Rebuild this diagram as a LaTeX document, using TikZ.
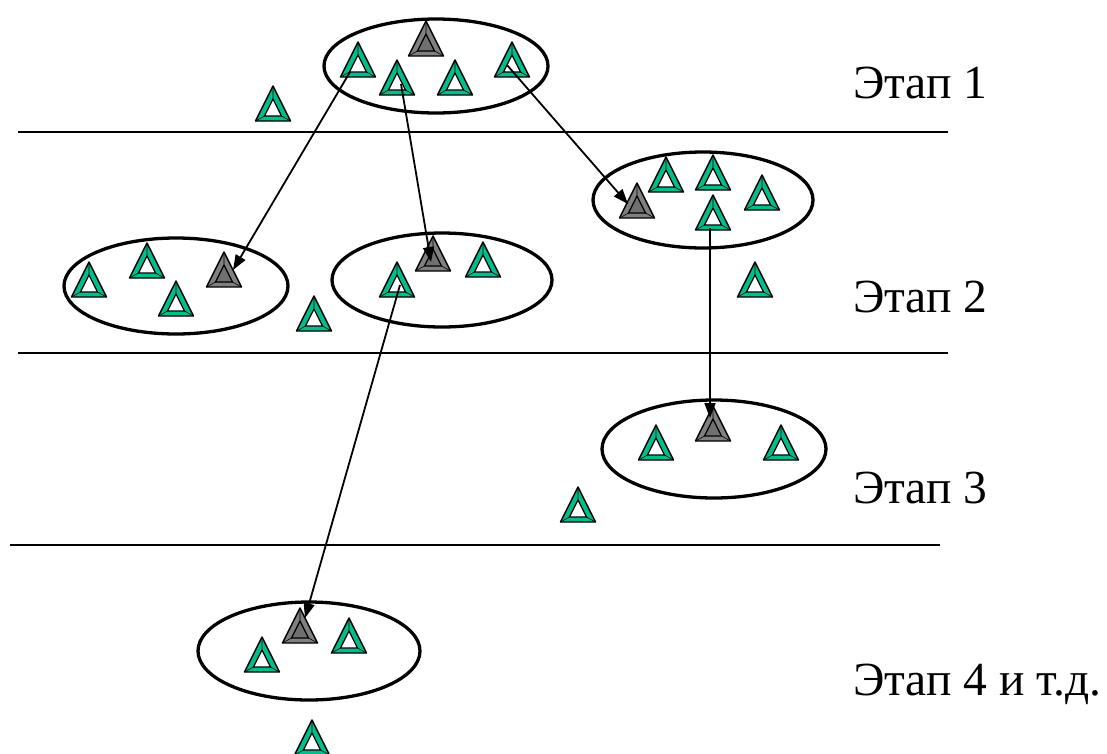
\documentclass[tikz,border=0pt]{standalone}
\usepackage{fontspec}
\setmainfont{Liberation Serif}
\usetikzlibrary{arrows.meta}
\definecolor{teal1}{RGB}{0,190,140}
\definecolor{gray1}{RGB}{128,128,128}
\definecolor{gray2}{RGB}{112,112,112}
\tikzset{
  tri/.pic={
    \fill[teal1,draw=black,line width=1.4pt,line join=round] (0,0)--(17.5,35)--(-17.5,35)--cycle;
    \draw[black,line width=0.6pt] (0,0)--(0,13) (17.5,35)--(8.5,30) (-17.5,35)--(-8.5,30);
    \fill[white,draw=black,line width=1.3pt,line join=round] (0,13)--(8.5,30)--(-8.5,30)--cycle;
    \coordinate (-c) at (0,24);
  },
  gtri/.pic={
    \fill[gray1,draw=black,line width=1.4pt,line join=round] (0,0)--(17.5,35)--(-17.5,35)--cycle;
    \draw[black,line width=0.6pt] (0,0)--(0,13) (17.5,35)--(8.5,30) (-17.5,35)--(-8.5,30);
    \fill[gray2,draw=black,line width=1.3pt,line join=round] (0,13)--(8.5,30)--(-8.5,30)--cycle;
    \coordinate (-c) at (0,24);
  },
  grp/.style={draw=black,line width=3.3pt},
  sep/.style={draw=black,line width=1.3pt},
  arr/.style={draw=black,line width=1.8pt,-{Triangle[length=15pt,width=11pt]}},
  lbl/.style={anchor=base west,inner sep=0pt,font=\fontsize{47.5}{56}\selectfont}
}
\begin{document}
\begin{tikzpicture}[x=1pt,y=-1pt]
\useasboundingbox (0,0) rectangle (1107,753);
% separators
\coordinate (l1a) at (18,132); \coordinate (l1b) at (948,132);
\coordinate (l2a) at (18,353); \coordinate (l2b) at (948,353);
\coordinate (l3a) at (10,545); \coordinate (l3b) at (940,545);
\draw[sep] (l1a)--(l1b);
\draw[sep] (l2a)--(l2b);
\draw[sep] (l3a)--(l3b);
% group ellipses
\draw[grp] (436,66) ellipse [x radius=112, y radius=47];
\draw[grp] (176,286) ellipse [x radius=112, y radius=48];
\draw[grp] (442,280) ellipse [x radius=110, y radius=47];
\draw[grp] (703,200) ellipse [x radius=110, y radius=48];
\draw[grp] (714,449) ellipse [x radius=112, y radius=49];
\draw[grp] (309,651) ellipse [x radius=111, y radius=49];
% stage 1
\pic (s1a) at (358,42) {tri};
\pic (s1g) at (426,21) {gtri};
\pic (s1b) at (397,60) {tri};
\pic (s1c) at (455,60) {tri};
\pic (s1d) at (512,42) {tri};
\pic (s1x) at (273,86) {tri};
% stage 2 left
\pic (s2a) at (89,262) {tri};
\pic (s2b) at (147,243) {tri};
\pic (s2c) at (176,281) {tri};
\pic (s2g) at (224,252) {gtri};
\pic (s2x) at (314,296) {tri};
% stage 2 middle
\pic (s2m) at (397,262) {tri};
\pic (s2mg) at (433,236) {gtri};
\pic (s2n) at (483,242) {tri};
% stage 2 right
\pic (s2rg) at (637,183) {gtri};
\pic (s2r1) at (666,157) {tri};
\pic (s2r2) at (713,155) {tri};
\pic (s2r3) at (762,175) {tri};
\pic (s2r4) at (713,195) {tri};
\pic (s2y) at (755,262) {tri};
% stage 3
\pic (s3a) at (656,425) {tri};
\pic (s3g) at (713,406) {gtri};
\pic (s3b) at (781,425) {tri};
\pic (s3x) at (578,487) {tri};
% stage 4
\pic (s4a) at (262,637) {tri};
\pic (s4g) at (300,608) {gtri};
\pic (s4b) at (349,618) {tri};
\pic (s4x) at (312,720) {tri};
% arrow end points
\coordinate (a1s) at (350,72);  \coordinate (a1e) at (233,270);
\coordinate (a2s) at (401,84);  \coordinate (a2e) at (431,262);
\coordinate (a3s) at (507,65);  \coordinate (a3e) at (628,204);
\coordinate (a4s) at (710,228); \coordinate (a4e) at (710,418);
\coordinate (a5s) at (400,285); \coordinate (a5e) at (305,618);
\draw[arr] (a1s)--(a1e);
\draw[arr] (a2s)--(a2e);
\draw[arr] (a3s)--(a3e);
\draw[arr] (a4s)--(a4e);
\draw[arr] (a5s)--(a5e);
% labels
\node[lbl] (e1) at (853,98) {Этап 1};
\node[lbl] (e2) at (853,312) {Этап 2};
\node[lbl] (e3) at (853,503) {Этап 3};
\node[lbl] (e4) at (853,695) {Этап 4 и т.д.};
\end{tikzpicture}
\end{document}
